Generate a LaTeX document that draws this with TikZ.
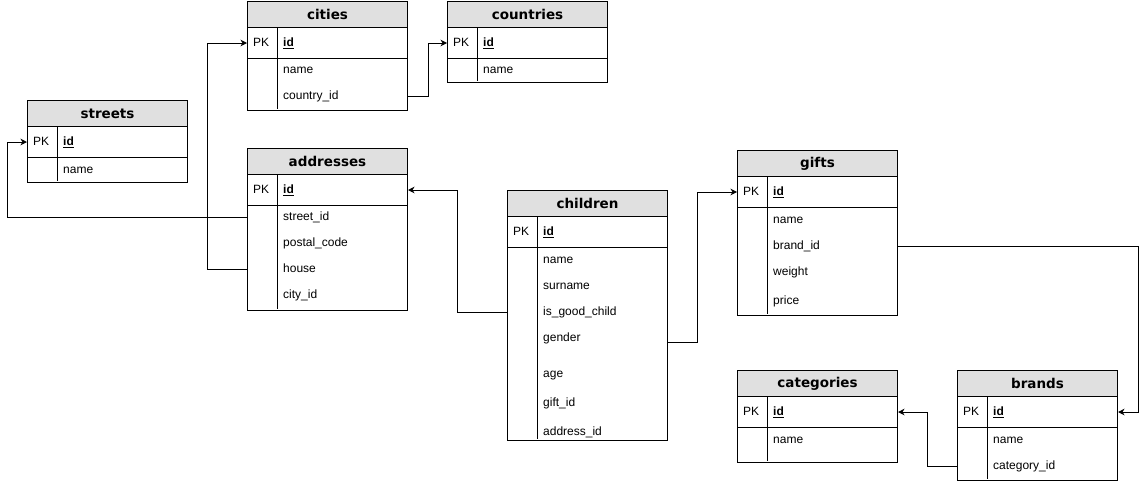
\documentclass[tikz,border=0pt]{standalone}
\usepackage{fontspec}
\setmainfont{Liberation Sans}
\newfontfamily\hdrfont{DejaVu Sans}
\usetikzlibrary{arrows.meta,calc}
\definecolor{hdr}{RGB}{224,224,224}
\tikzset{
  tblbox/.style={draw, line width=1pt, minimum width=160pt, inner sep=0pt, fill=white},
  hdrbox/.style={draw, line width=1pt, fill=hdr, minimum width=160pt, minimum height=26pt, inner sep=0pt,
    font=\hdrfont\bfseries\fontsize{13.5}{16}\selectfont},
  tblline/.style={line width=1pt},
  fld/.style={anchor=west, inner sep=0pt, text height=8.6pt, text depth=1.5pt, font=\fontsize{12}{14}\selectfont},
  conn/.style={line width=1pt, -{Stealth[length=6.5pt,width=6.5pt,inset=2pt]}},
}
\newcommand\ertable[5]{% name, x0, y0, height, title
  \node[tblbox, minimum height=#4pt, anchor=north west] (#1) at (#2,#3) {};
  \node[hdrbox, anchor=north west] (#1-h) at (#1.north west) {#5};
  \draw[tblline] ($(#1-h.south west)+(0,30)$) -- ($(#1-h.south east)+(0,30)$);
  \draw[tblline] ($(#1-h.south west)+(30,0)$) -- ($(#1.south west)+(30,-2)$);
  \node[fld] (#1-pkl) at ($(#1-h.south west)+(6,15)$) {PK};
  \node[fld] (#1-pk) at ($(#1-h.south west)+(36,15)$) {\underline{\textbf{id}}};
}
\begin{document}
\begin{tikzpicture}[x=1pt,y=-1pt]
\useasboundingbox (0,0) rectangle (1147,482);

\ertable{cities}{247}{1}{109}{cities}
\node[fld] (cities-name) at (283,70) {name};
\node[fld] (cities-country) at (283,96) {country\_id};

\ertable{countries}{447}{1}{81}{countries}
\node[fld] (countries-name) at (483,70) {name};

\ertable{streets}{27}{100}{82}{streets}
\node[fld] (streets-name) at (63,170) {name};

\ertable{addresses}{247}{148}{162}{addresses}
\node[fld] (addresses-street) at (283,217) {street\_id};
\node[fld] (addresses-postal) at (283,243) {postal\_code};
\node[fld] (addresses-house) at (283,269) {house};
\node[fld] (addresses-city) at (283,295) {city\_id};

\ertable{children}{507}{190}{250}{children}
\node[fld] (children-name) at (543,260) {name};
\node[fld] (children-surname) at (543,286) {surname};
\node[fld] (children-good) at (543,312) {is\_good\_child};
\node[fld] (children-gender) at (543,338) {gender};
\node[fld] (children-age) at (543,374) {age};
\node[fld] (children-gift) at (543,403) {gift\_id};
\node[fld] (children-address) at (543,432) {address\_id};
\coordinate (children-genderline) at (667,342);

\ertable{gifts}{737}{150}{165}{gifts}
\node[fld] (gifts-name) at (773,220) {name};
\node[fld] (gifts-brand) at (773,246) {brand\_id};
\node[fld] (gifts-weight) at (773,272) {weight};
\node[fld] (gifts-price) at (773,301) {price};

\ertable{categories}{737}{370}{92}{categories}
\node[fld] (categories-name) at (773,440) {name};

\ertable{brands}{957}{370}{110}{brands}
\node[fld] (brands-name) at (993,440) {name};
\node[fld] (brands-cat) at (993,466) {category\_id};

% connectors
\draw[conn] (addresses-street -| addresses.west) -- ++(-240,0) |- (streets-pk -| streets.west);
\draw[conn] (addresses-house -| addresses.west) -- ++(-40,0) |- (cities-pk -| cities.west);
\draw[conn] (cities-country -| cities.east) -- ++(20,0) |- (countries-pk -| countries.west);
\draw[conn] (children-good -| children.west) -- ++(-50,0) |- (addresses-pk -| addresses.east);
\draw[conn] (children-genderline) -- ++(30,0) |- (gifts-pk -| gifts.west);
\draw[conn] (gifts-brand -| gifts.east) -- ++(240,0) |- (brands-pk -| brands.east);
\draw[conn] (brands-cat -| brands.west) -- ++(-30,0) |- (categories-pk -| categories.east);
\end{tikzpicture}
\end{document}
